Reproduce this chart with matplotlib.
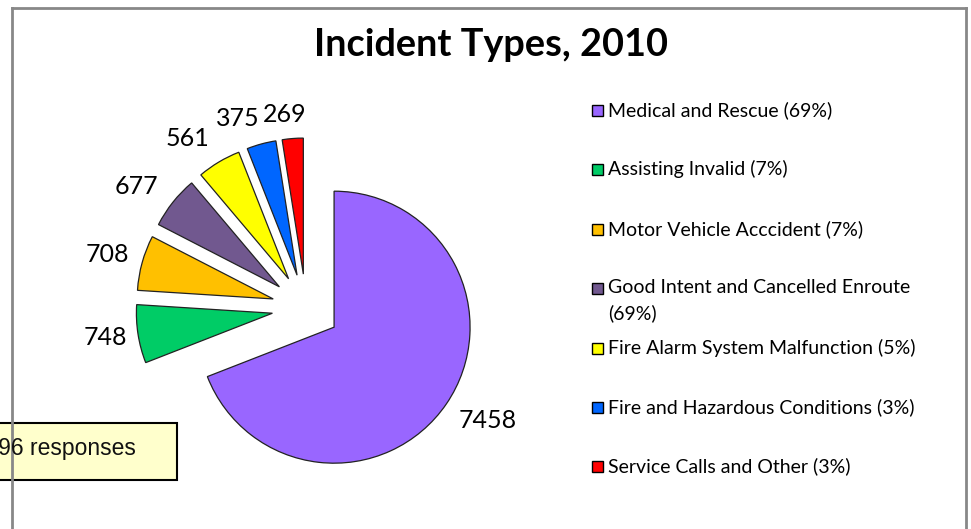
import matplotlib
matplotlib.use('Agg')
import matplotlib.pyplot as plt
from matplotlib.patches import Rectangle
from matplotlib.lines import Line2D
import numpy as np

categories = ["Medical and Rescue", "Assisting Invalid", "Motor Vehicle Acccident",
              "Good Intent and Cancelled Enroute", "Fire Alarm System Malfunction",
              "Fire and Hazardous Conditions", "Service Calls and Other"]
values = [7458, 748, 708, 677, 561, 375, 269]
legend_pcts = ["69%", "7%", "7%", "69%", "5%", "3%", "3%"]
colors = ["#9966FF", "#00CC66", "#FFC000", "#71588F", "#FFFF00", "#0066FF", "#FF0000"]
title = "Incident Types, 2010"

# label placement style tweaks (angle nudge in degrees, distance in radii)
label_nudge = [2.6, -0.4, 0.4, 2.9, 4.1, 4.7, 1.7]
label_dist = [1.57, 1.49, 1.51, 1.53, 1.52, 1.48, 1.43]

W, H = 971, 529
fig = plt.figure(figsize=(W / 100, H / 100), dpi=100)
ax = fig.add_axes([0, 0, 1, 1])
R = 136.0
cx, cy = 306.0, H - 308.0

wedges, _ = ax.pie(values, colors=colors, startangle=90, counterclock=False,
                   explode=[0.25] * len(values),
                   wedgeprops=dict(edgecolor="#222222", linewidth=0.9))
ax.set_aspect('auto')
ax.set_xlim(-cx / R, (W - cx) / R)
ax.set_ylim(-cy / R, (H - cy) / R)
ax.axis('off')

# value labels
for w, v, dn, d in zip(wedges, values, label_nudge, label_dist):
    th = np.deg2rad((w.theta1 + w.theta2) / 2 + dn)
    ax.text(d * np.cos(th), d * np.sin(th), f"{v}", ha='center', va='center',
            fontsize=18, family='Lato', color='black')

def px(x, y):
    return x / W, 1 - y / H

# title
tx, ty = px(491, 45)
fig.text(tx, ty, title, ha='center', va='center', fontsize=27.3, fontweight='bold',
         family='Lato', color='black')

# legend
leg_y0, leg_dy = 110, 59.4
for i, (cat, p, col) in enumerate(zip(categories, legend_pcts, colors)):
    y = leg_y0 + i * leg_dy
    label = f"{cat} ({p})"
    if len(label) > 34:
        label = f"{cat}\n({p})"
    x0, y0 = px(592, y + 6)
    fig.add_artist(Rectangle((x0, y0), 11 / W, 11 / H, transform=fig.transFigure,
                             facecolor=col, edgecolor='black', linewidth=1.0))
    lx, ly = px(608, y - 9)
    fig.text(lx, ly, label, ha='left', va='top', fontsize=14, family='Lato',
             color='black', linespacing=1.55)

# text box
bx, by = px(-10, 480)
fig.add_artist(Rectangle((bx, by), 187 / W, 57 / H, transform=fig.transFigure,
                         facecolor='#FFFFCC', edgecolor='black', linewidth=1.5))
ttx, tty = px(136, 449)
fig.text(ttx, tty, f"{sum(values)} responses", ha='right', va='center', fontsize=16.5,
         family='Liberation Sans', color='#111111')

# chart frame
fx0, fy0 = px(12, 8)
fx1, fy1 = px(966, H + 5)
for xs, ys in [((fx0, fx0), (fy0, fy1)), ((fx0, fx1), (fy0, fy0)), ((fx1, fx1), (fy0, fy1))]:
    fig.add_artist(Line2D(xs, ys, transform=fig.transFigure, color='#888888', linewidth=2))

fig.savefig('out.png', dpi=100)
